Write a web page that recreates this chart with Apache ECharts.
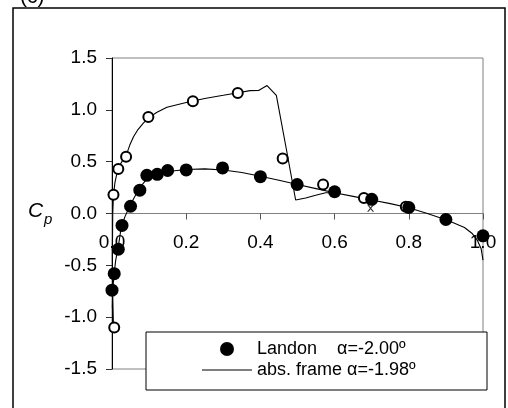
<!DOCTYPE html>
<html>
<head>
<meta charset="utf-8">
<script src="https://cdn.jsdelivr.net/npm/echarts@6/dist/echarts.min.js"></script>
<style>html,body{margin:0;padding:0;background:#fff;}#c{width:508px;height:408px;}</style>
</head>
<body>
<div id="c"></div>
<script>
// Landon experiment, filled markers (legend entry)
var landonFilledX = [0.0, 0.006, 0.017, 0.027, 0.05, 0.075, 0.094, 0.122, 0.15, 0.2, 0.298, 0.4, 0.499, 0.6, 0.7, 0.8, 0.9, 1.0];
var landonFilledY = [-0.74, -0.58, -0.345, -0.115, 0.07, 0.225, 0.368, 0.378, 0.415, 0.42, 0.44, 0.355, 0.28, 0.21, 0.137, 0.058, -0.058, -0.215];
// open markers (no legend entry)
var landonOpenX = [0.006, 0.004, 0.017, 0.038, 0.098, 0.218, 0.339, 0.46, 0.569, 0.679, 0.792];
var landonOpenY = [-1.1, 0.18, 0.43, 0.548, 0.93, 1.083, 1.163, 0.53, 0.28, 0.15, 0.064];
// small cross marker
var crossX = [0.697];
var crossY = [0.05];
// abs. frame computation, lower branch (trailing edge -> stagnation)
var calcLowerX = [1.0, 0.995, 0.985, 0.97, 0.95, 0.92, 0.9, 0.85, 0.8, 0.75, 0.7, 0.65, 0.6, 0.55, 0.5, 0.45, 0.4, 0.35, 0.3, 0.25, 0.2, 0.15, 0.12, 0.1, 0.075, 0.05, 0.035, 0.025, 0.017, 0.01, 0.005, 0.002, 0.001];
var calcLowerY = [-0.45, -0.34, -0.26, -0.19, -0.135, -0.09, -0.06, 0.0, 0.055, 0.095, 0.13, 0.165, 0.2, 0.24, 0.28, 0.32, 0.36, 0.395, 0.42, 0.43, 0.425, 0.405, 0.385, 0.36, 0.25, 0.09, -0.03, -0.13, -0.32, -0.45, -0.6, -0.75, -0.9];
// upper branch (stagnation -> merge)
var calcUpperX = [0.004, 0.002, 0.001, 0.002, 0.004, 0.008, 0.014, 0.02, 0.03, 0.04, 0.048, 0.058, 0.07, 0.085, 0.1, 0.12, 0.148, 0.2, 0.25, 0.3, 0.34, 0.372, 0.395, 0.418, 0.443, 0.47, 0.495, 0.522, 0.549, 0.576, 0.6];
var calcUpperY = [-1.1, -0.8, -0.4, 0.0, 0.18, 0.3, 0.4, 0.46, 0.52, 0.58, 0.66, 0.74, 0.81, 0.875, 0.925, 0.975, 1.025, 1.07, 1.11, 1.14, 1.165, 1.185, 1.187, 1.234, 1.14, 0.62, 0.13, 0.15, 0.176, 0.2, 0.2];
var xTicks = [0.0, 0.2, 0.4, 0.6, 0.8, 1.0];
var yTicks = [-1.5, -1.0, -0.5, 0.0, 0.5, 1.0, 1.5];
var nameFilled = 'Landon    \u03b1=-2.00\u00ba';
var nameLine = 'abs. frame \u03b1=-1.98\u00ba';

function zip(xs, ys){ return xs.map(function(x,i){ return [x, ys[i]]; }); }
var lineData = zip(calcLowerX, calcLowerY).concat(zip(calcUpperX, calcUpperY));

var FONT = 'Liberation Sans';
var GRID_TOP = 58, GRID_BOTTOM = 39, H = 408;
var plotH = H - GRID_TOP - GRID_BOTTOM;
var yMin = yTicks[0], yMax = yTicks[yTicks.length-1];
// move the x axis up to the y=0 line
var zeroOffset = -plotH * (0 - yMin) / (yMax - yMin);

var chart = echarts.init(document.getElementById('c'), null, {renderer:'canvas'});
chart.setOption({
  animation: false,
  backgroundColor: '#fff',
  textStyle: {fontFamily: FONT, color:'#000'},
  grid: {left:112, right:25, top:GRID_TOP, bottom:GRID_BOTTOM, show:true, borderColor:'#808080', borderWidth:1, backgroundColor:'transparent'},
  xAxis: {
    type:'value', min:xTicks[0], max:xTicks[xTicks.length-1], interval:0.2,
    position:'bottom', offset: zeroOffset,
    axisLine:{onZero:false, lineStyle:{color:'#808080', width:1}},
    axisTick:{show:true, length:6, lineStyle:{color:'#555'}},
    axisLabel:{margin:20, fontSize:19, fontFamily:FONT, color:'#000', formatter:function(v){return v.toFixed(1);}},
    splitLine:{show:false}
  },
  yAxis: {
    type:'value', min:yMin, max:yMax, interval:0.5,
    axisLine:{show:true, onZero:false, lineStyle:{color:'#000', width:1}},
    axisTick:{show:true, length:6, lineStyle:{color:'#333'}},
    axisLabel:{margin:15, fontSize:19, fontFamily:FONT, color:'#000', formatter:function(v){return v.toFixed(1);}},
    splitLine:{show:false}
  },
  legend: {
    data:[
      {name:nameFilled, icon:'circle'},
      {name:nameLine, icon:'path://M0,0L0.01,0L0.01,0.01L0,0.01Z M0,6.5L50,6.5L50,7.6L0,7.6Z M49.99,13.99L50,13.99L50,14L49.99,14Z'}
    ],
    orient:'vertical', left:197, top:335, padding:5, itemGap:3,
    itemWidth:50, itemHeight:14,
    textStyle:{fontSize:18, fontFamily:FONT, color:'#000'},
    z: 20
  },
  graphic: [
    {type:'rect', z:10, shape:{x:146, y:332, width:341, height:58}, style:{fill:'#fff', stroke:'#000', lineWidth:1}},
    {type:'rect', z:10, shape:{x:13, y:8, width:492, height:420}, style:{fill:'none', stroke:'#000', lineWidth:1.5}},
    {type:'text', z:10, left:20, top:-13, style:{text:'(c)', font:'21px Liberation Sans', fill:'#000'}},
    {type:'text', z:10, left:28, top:201, style:{text:'C', font:'italic 21px Liberation Sans', fill:'#000'}},
    {type:'text', z:10, left:44, top:212, style:{text:'p', font:'italic 15px Liberation Sans', fill:'#000'}}
  ],
  series: [
    {name:nameLine, type:'line', data:lineData, showSymbol:false, symbol:'none', smooth:false,
     lineStyle:{color:'#000', width:1.1}, itemStyle:{color:'#000'}, z:2},
    {name:'open', type:'scatter', data:zip(landonOpenX, landonOpenY), symbol:'circle', symbolSize:10,
     itemStyle:{color:'#fff', borderColor:'#000', borderWidth:2, opacity:1}, z:3},
    {name:'cross', type:'scatter', data:zip(crossX, crossY),
     symbol:'path://M0,0L2,0L5,3.6L8,0L10,0L6,5L10,10L8,10L5,6.4L2,10L0,10L4,5Z', symbolSize:7,
     itemStyle:{color:'#000'}, z:3},
    {name:nameFilled, type:'scatter', data:zip(landonFilledX, landonFilledY), symbol:'circle', symbolSize:13,
     itemStyle:{color:'#000', opacity:1}, z:4}
  ]
});
</script>
</body>
</html>
